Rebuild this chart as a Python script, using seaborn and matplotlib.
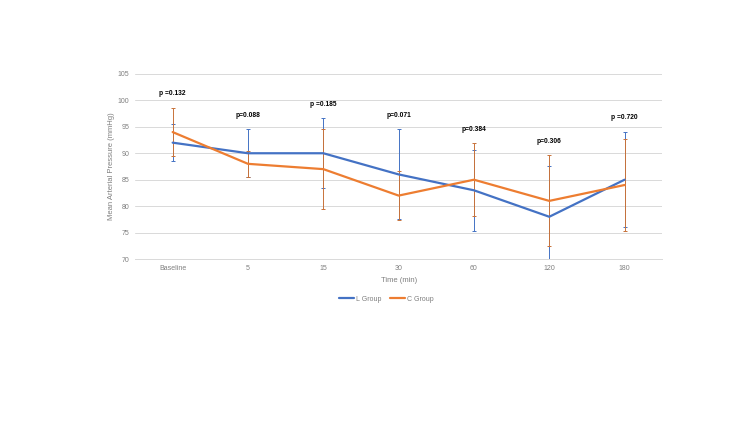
import numpy as np
import pandas as pd
import matplotlib
matplotlib.use('Agg')
import matplotlib.pyplot as plt
import seaborn as sns

# time points and group means / SD
times = ['Baseline', '5', '15', '30', '60', '120', '180']
l_mean = [92, 90, 90, 86, 83, 78, 85]
l_sd = [3.5, 4.5, 6.6, 8.5, 7.6, 9.6, 9.0]
c_mean = [94, 88, 87, 82, 85, 81, 84]
c_sd = [4.6, 2.4, 7.5, 4.6, 6.9, 8.6, 8.6]
p_vals = ['p =0.132', 'p=0.088', 'p =0.185', 'p=0.071', 'p=0.384', 'p=0.306', 'p =0.720']

BLUE = '#4472C4'; ORANGE = '#ED7D31'; GREY = '#7F7F7F'

sns.set_theme(style='white')
plt.rcParams['font.family'] = ['Liberation Sans', 'DejaVu Sans']

df = pd.DataFrame({'Time': times * 2,
                   'MAP': l_mean + c_mean,
                   'Group': ['L Group'] * len(times) + ['C Group'] * len(times)})

fig = plt.figure(figsize=(7.5, 4.22), dpi=100)
ax = fig.add_axes([0.18, 0.386, 0.703, 0.439])

sns.lineplot(data=df, x='Time', y='MAP', hue='Group', palette=[BLUE, ORANGE],
             lw=1.6, sort=False, ax=ax, legend=False)
x = np.arange(len(times))
ax.errorbar(x, l_mean, yerr=l_sd, fmt='none', ecolor=BLUE, elinewidth=0.7, capsize=1.5, capthick=0.7, zorder=1)
ax.errorbar(x, c_mean, yerr=c_sd, fmt='none', ecolor='#C8723A', elinewidth=0.7, capsize=1.5, capthick=0.7, zorder=1)

# p-value labels sit a little above the highest whisker
for i, p in enumerate(p_vals):
    top = max(l_mean[i] + l_sd[i], c_mean[i] + c_sd[i])
    ax.text(i, top + 2.0, p, ha='center', va='bottom', fontsize=4.8, fontweight='bold', color='black')

ax.set_xlim(-0.5, len(times) - 0.5)
ax.set_ylim(70, 105)
ax.set_yticks(range(70, 106, 5))
ax.grid(axis='y', color='#D9D9D9', lw=0.7)
ax.set_axisbelow(True)
for s in ['top', 'right', 'left']:
    ax.spines[s].set_visible(False)
ax.spines['bottom'].set_color('#D9D9D9'); ax.spines['bottom'].set_linewidth(0.7)
ax.tick_params(axis='both', length=0, labelsize=5, colors=GREY, pad=4)
ax.set_xlabel('Time (min)', fontsize=5.5, color=GREY, labelpad=4)
ax.set_ylabel('Mean Arterial Pressure (mmHg)', fontsize=5.5, color=GREY, labelpad=2)

handles = [plt.Line2D([], [], color=BLUE, lw=1.6), plt.Line2D([], [], color=ORANGE, lw=1.6)]
fig.legend(handles, ['L Group', 'C Group'], loc='center', bbox_to_anchor=(0.515, 0.291), ncol=2,
           frameon=False, fontsize=5, labelcolor=GREY, handlelength=2.2, handletextpad=0.3, columnspacing=1.2)

plt.savefig('out.png', dpi=100)
plt.close()
